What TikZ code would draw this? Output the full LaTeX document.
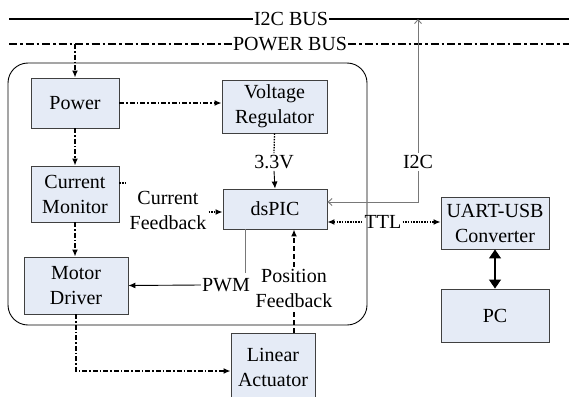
\documentclass[tikz,border=0pt]{standalone}
\usepackage{fontspec}
\setmainfont{Liberation Serif}
\usetikzlibrary{arrows.meta}
\definecolor{boxfill}{RGB}{229,235,246}
\definecolor{boxline}{RGB}{64,64,64}
\definecolor{sigline}{RGB}{120,120,120}

\begin{document}
\begin{tikzpicture}[x=1pt, y=-1pt, >={Latex[length=7pt,width=6pt]},
    font=\fontsize{20}{25}\selectfont,
    blk/.style={draw=boxline, fill=boxfill, line width=0.9pt, align=center, inner sep=0pt},
    lbl/.style={align=center, inner sep=2pt},
    dashdot/.style={line width=1.8pt, dash pattern=on 5pt off 2pt on 1.5pt off 2pt},
    dots/.style={line width=1.3pt, dash pattern=on 1.5pt off 1.2pt},
    fbdash/.style={line width=1.8pt, dash pattern=on 5pt off 3pt}]

    \useasboundingbox (0,0) rectangle (569,396);

    % Buses
    \coordinate (i2cL) at (9,19);
    \coordinate (i2cR) at (569,19);
    \coordinate (pwrL) at (9,44);
    \coordinate (pwrR) at (569,44);
    \node[lbl, inner sep=1pt] (i2cbus) at (291,19) {I2C BUS};
    \node[lbl, inner sep=1pt] (pwrbus) at (290,44) {POWER BUS};
    \draw[line width=1.1pt] (i2cL) -- (i2cbus.west);
    \draw[line width=1.1pt] (i2cbus.east) -- (i2cR);
    \draw[line width=2.2pt, dash pattern=on 8pt off 3pt on 2.5pt off 3pt] (pwrL) -- (pwrbus.west);
    \draw[line width=2.2pt, dash pattern=on 8pt off 3pt on 2.5pt off 3pt] (pwrbus.east) -- (pwrR);

    % Main board
    \draw[line width=0.9pt, rounded corners=20pt] (8,63) rectangle (367,325);

    \node[blk, minimum width=88pt, minimum height=50pt] (power) at (75,103) {Power};
    \node[blk, minimum width=105pt, minimum height=53pt] (vreg) at (274.5,106.5) {Voltage\\Regulator};
    \node[blk, minimum width=88pt, minimum height=56pt] (cmon) at (75,194) {Current\\Monitor};
    \node[blk, minimum width=104pt, minimum height=40pt] (dspic) at (275,209) {dsPIC};
    \node[blk, minimum width=104pt, minimum height=57pt] (mdrv) at (76,285.5) {Motor\\Driver};

    % Outside the board
    \node[blk, minimum width=84pt, minimum height=68pt] (linact) at (273,367) {Linear\\Actuator};
    \node[blk, minimum width=108pt, minimum height=52pt] (uart) at (495,223) {UART-USB\\Converter};
    \node[blk, minimum width=108pt, minimum height=53pt] (pc) at (495,315.5) {PC};

    % Labels on the connectors
    \node[lbl] (v33) at (274,162) {3.3V};
    \node[lbl] (curfb) at (168,210) {Current\\Feedback};
    \node[lbl] (posfb) at (294,288) {Position\\Feedback};
    \node[lbl, inner sep=1pt] (pwm) at (226,285) {PWM};
    \node[lbl, inner sep=1pt] (ttl) at (383,222) {TTL};
    \node[lbl] (i2c) at (418,162) {I2C};
    \coordinate (pwrtap) at (75,44);
    \coordinate (i2ctap) at (418,19);
    \coordinate (pwmtop) at (245,273);

    % Power lines
    \draw[dashdot, ->] (pwrtap) -- (power.north);
    \draw[dashdot, ->] (power.east) -- (power.east -| vreg.west);
    \draw[dashdot, ->] (power.south) -- (cmon.north);
    \draw[dashdot, ->] (cmon.south) -- (cmon.south |- mdrv.north);
    \draw[dashdot, ->] (mdrv.south) |- ([yshift=-4pt]linact.west);
    \draw[dots] (vreg.south) -- (v33.north);
    \draw[->, line width=0.9pt] (v33.south) -- (dspic.north);

    % Signals
    \draw[dots] ([yshift=11pt]cmon.east) -- ([yshift=11pt]cmon.east -| curfb.west);
    \draw[dots, ->] ([yshift=-3pt]dspic.west -| curfb.east) -- ([yshift=-3pt]dspic.west);
    \draw[sigline, line width=0.9pt] (dspic.south -| pwmtop) -- (pwmtop);
    \draw[->, line width=0.9pt] (pwm.west) -- (mdrv.east);
    \draw[fbdash] (linact.north -| posfb.south) -- (posfb.south);
    \draw[fbdash, ->] (posfb.north) -- (dspic.south -| posfb.north);
    \draw[dots, <-] ([yshift=-13pt]dspic.east) -- (ttl.west);
    \draw[dots, ->] (ttl.east) -- (ttl.east -| uart.west);
    \draw[line width=1.2pt, {Triangle[length=9pt,width=12pt]}-{Triangle[length=9pt,width=12pt]}] (uart.south) -- (pc.north);

    % I2C link
    \draw[sigline, line width=0.9pt, ->, >={Straight Barb[length=4pt,width=7pt]}] (i2c.north) -- (i2ctap);
    \draw[sigline, line width=0.9pt, ->, >={Straight Barb[length=4pt,width=7pt]}] (i2c.south) |- ([yshift=7pt]dspic.east);

\end{tikzpicture}
\end{document}
